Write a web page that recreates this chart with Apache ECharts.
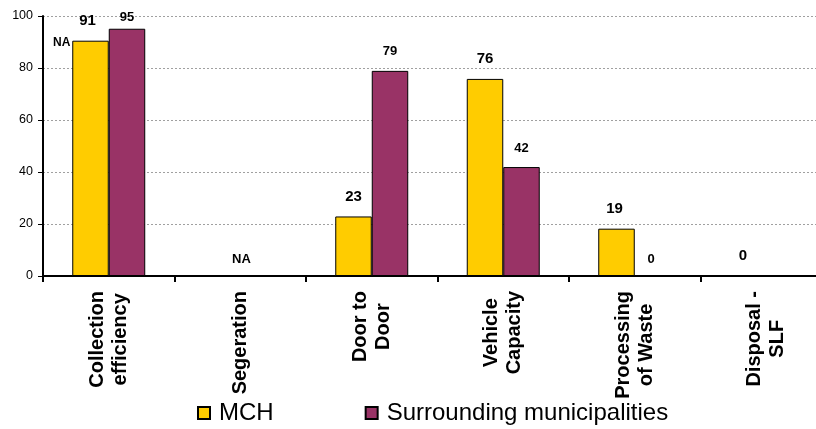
<!DOCTYPE html>
<html>
<head>
<meta charset="utf-8">
<script src="https://cdn.jsdelivr.net/npm/echarts@6/dist/echarts.min.js"></script>
<style>html,body{margin:0;padding:0;background:#fff;}#c{width:816px;height:429px;}</style>
</head>
<body>
<div id="c"></div>
<script>
var categories = ["Collection\nefficiency", "Segeration", "Door to\nDoor", "Vehicle\nCapacity", "Processing\nof Waste", "Disposal -\nSLF"];
var seriesNames = ["MCH", "Surrounding municipalities"];
var mchValues = [90.5, 0, 22.9, 75.8, 18.2, 0];
var mchLabels = ["91", "", "23", "76", "19", "0"];
var surrValues = [95.1, 0, 78.9, 41.9, 0, 0];
var surrLabels = ["95", "NA", "79", "42", "0", ""];
var yTicks = [0, 20, 40, 60, 80, 100];
var extraNote = "NA";

var FONT = "'Liberation Sans', Arial, sans-serif";
var chart = echarts.init(document.getElementById('c'), null, {renderer: 'canvas'});

// per-item label nudges (style only)
var mchNudge = [[-3, 0], [0, 0], [0, 0], [0, 0], [-2, 0], [-5, 0]];
var surrNudge = [[0, 8], [-17, 3], [0, 0], [0, 0], [-2, 3], [0, 0]];

function buildData(vals, labels, nudge) {
  return vals.map(function (v, i) {
    return {value: v, label: {formatter: labels[i], offset: nudge[i]}};
  });
}

chart.setOption({
  animation: false,
  textStyle: {fontFamily: FONT},
  grid: {left: 43, right: -16, top: 16, bottom: 153, containLabel: false, outerBoundsMode: 'none'},
  legend: {
    data: seriesNames,
    left: 197, top: 401, padding: 0,
    itemWidth: 12, itemHeight: 12, itemGap: 91,
    icon: 'rect',
    textStyle: {fontSize: 24, color: '#000', fontFamily: FONT, padding: [0, 0, 0, 4]}
  },
  xAxis: {
    type: 'category',
    data: categories,
    axisLine: {lineStyle: {color: '#000', width: 2}},
    axisTick: {show: true, interval: 0, alignWithLabel: false, length: 6, lineStyle: {color: '#000', width: 2}},
    axisLabel: {
      interval: 0, rotate: 90, margin: 15,
      formatter: function (v) {
        return v.split('\n').map(function (s) { return '{c|' + s + '}'; }).join('\n');
      },
      rich: {c: {align: 'center', fontSize: 20, fontWeight: 'bold', lineHeight: 23, color: '#000', fontFamily: FONT}}
    },
    splitLine: {show: false}
  },
  yAxis: {
    type: 'value', min: yTicks[0], max: yTicks[yTicks.length - 1], interval: yTicks[1] - yTicks[0],
    axisLine: {show: true, lineStyle: {color: '#000', width: 2}},
    axisTick: {show: true, length: 5, lineStyle: {color: '#000', width: 1}},
    axisLabel: {fontSize: 12.5, color: '#000', margin: 10, fontFamily: FONT},
    splitLine: {show: true, lineStyle: {color: '#a0a0a0', type: [2, 2], width: 1}}
  },
  series: [
    {
      name: seriesNames[0], type: 'bar',
      data: buildData(mchValues, mchLabels, mchNudge),
      barGap: '0%', barCategoryGap: '44.5%',
      itemStyle: {color: '#FFCC00', borderColor: '#000', borderWidth: 1},
      label: {show: true, position: 'top', distance: 12.5, fontSize: 15, fontWeight: 'bold', color: '#000', fontFamily: FONT}
    },
    {
      name: seriesNames[1], type: 'bar',
      data: buildData(surrValues, surrLabels, surrNudge),
      barGap: '0%', barCategoryGap: '44.5%',
      itemStyle: {color: '#993366', borderColor: '#000', borderWidth: 1},
      label: {show: true, position: 'top', distance: 12.5, fontSize: 13, fontWeight: 'bold', color: '#000', fontFamily: FONT}
    }
  ],
  graphic: [{
    type: 'text', left: 53, top: 37,
    style: {text: extraNote, fontSize: 12, fontWeight: 'bold', fill: '#000', fontFamily: FONT}
  }]
});
</script>
</body>
</html>
